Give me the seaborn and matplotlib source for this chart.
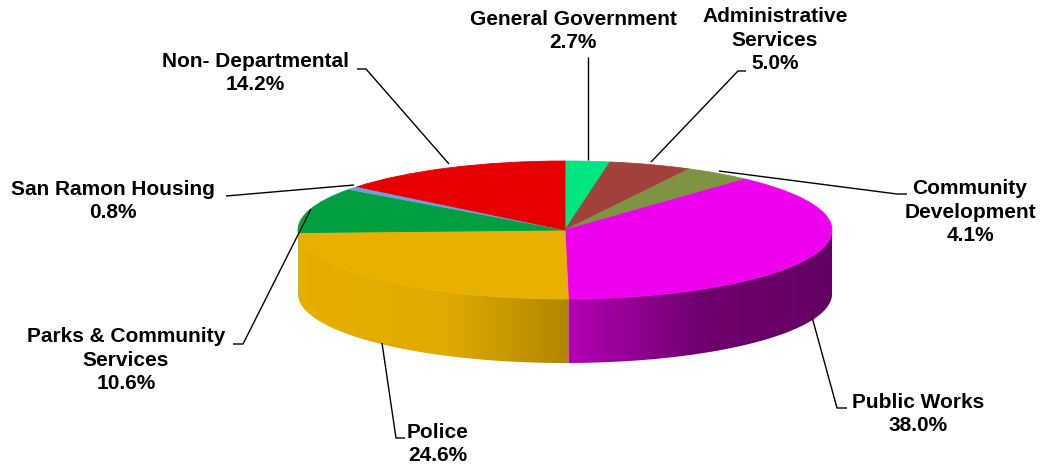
import numpy as np
import matplotlib
matplotlib.use("Agg")
import matplotlib.pyplot as plt
import seaborn as sns
from matplotlib.colors import to_rgb
from matplotlib.patches import Polygon

# Budget share by department (percent), clockwise from 12 o'clock
departments = [
    "General Government",
    "Administrative Services",
    "Community Development",
    "Public Works",
    "Police",
    "Parks & Community Services",
    "San Ramon Housing",
    "Non- Departmental",
]
shares = [2.7, 5.0, 4.1, 38.0, 24.6, 10.6, 0.8, 14.2]
label_names = [
    "General Government",
    "Administrative\nServices",
    "Community\nDevelopment",
    "Public Works",
    "Police",
    "Parks & Community\nServices",
    "San Ramon Housing",
    "Non- Departmental",
]
slice_colors = ["#00E680", "#A2403A", "#7E9442", "#EE00EE",
                "#E8B000", "#00A040", "#6CA0D8", "#E80000"]

# ---- layout (figure pixels) ----
W, H = 1041, 468
CX, CY = 565, 230      # centre of the top face
RX, RY = 267, 69       # radii of the top face
DEPTH = 64             # height of the side wall

label_pos = [(573, 31), (775, 40), (970, 212), (918, 414),
             (438, 444), (126, 360), (113, 201), (255, 73)]
leader_paths = [
    [(588, 57), (588, 160)],
    [(746, 71), (738, 71), (651, 162)],
    [(907, 194), (897, 194), (719, 171)],
    [(847, 408), (837, 408), (812, 317)],
    [(405, 438), (396, 438), (382, 343)],
    [(233, 344), (243, 344), (311, 209)],
    [(226, 196), (354, 185)],
    [(357, 69), (366, 69), (449, 164)],
]


def px(x, y):
    """Figure pixel position -> pie data coordinates (unit radius)."""
    return (x - CX) / RX, (CY - y) / RY


def wall_shade(x):
    """Brightness of the side wall: lit from the left, darker to the right."""
    return np.interp(x, [-1.0, -0.45, 0.0, 0.5, 1.0],
                        [0.99, 0.97, 0.77, 0.47, 0.42])


sns.set_theme(style="white")
plt.rcParams["font.family"] = ["Liberation Sans", "DejaVu Sans"]

fig = plt.figure(figsize=(W / 100, H / 100), dpi=100)
ax = fig.add_axes([0, 0, 1, 1])

wedges, _ = ax.pie(shares, colors=slice_colors, startangle=90,
                   counterclock=False, radius=1.0,
                   wedgeprops=dict(linewidth=0.6))
for w in wedges:
    w.set_edgecolor(w.get_facecolor())
    w.set_zorder(3)

# Side wall of the slices facing the viewer, with a smooth horizontal gradient
d = DEPTH / RY
xgrid = np.linspace(-1, 1, 600)
for w, col in zip(wedges, slice_colors):
    a = max(w.theta1, -180.0)
    b = min(w.theta2, 0.0)
    if b - a < 1.0:
        continue
    t = np.radians(np.linspace(a, b, 200))
    top = np.column_stack([np.cos(t), np.sin(t)])
    bot = np.column_stack([np.cos(t[::-1]), np.sin(t[::-1]) - d])
    poly = Polygon(np.vstack([top, bot]), closed=True,
                   facecolor="none", edgecolor="none", zorder=2)
    ax.add_patch(poly)
    base = np.array(to_rgb(col))
    img = (base[None, None, :] * wall_shade(xgrid)[None, :, None])
    im = ax.imshow(img, extent=(-1, 1, -1 - d, 0.05), aspect="auto",
                   interpolation="bilinear", zorder=2)
    im.set_clip_path(poly)

ax.set_aspect("auto")
ax.set_xlim(-CX / RX, (W - CX) / RX)
ax.set_ylim(-(H - CY) / RY, CY / RY)
ax.axis("off")

# Labels and leader lines
for name, val, (lx, ly), path in zip(label_names, shares, label_pos, leader_paths):
    tx, ty = px(lx, ly)
    ax.text(tx, ty, f"{name}\n{val:.1f}%", ha="center", va="center",
            multialignment="center", fontsize=15, fontweight="bold",
            linespacing=1.3, color="black", zorder=5)
    xs, ys = zip(*[px(x, y) for x, y in path])
    ax.plot(xs, ys, color="black", lw=1.0, zorder=4, solid_capstyle="butt")

fig.savefig("out.png", dpi=100, facecolor="white")
